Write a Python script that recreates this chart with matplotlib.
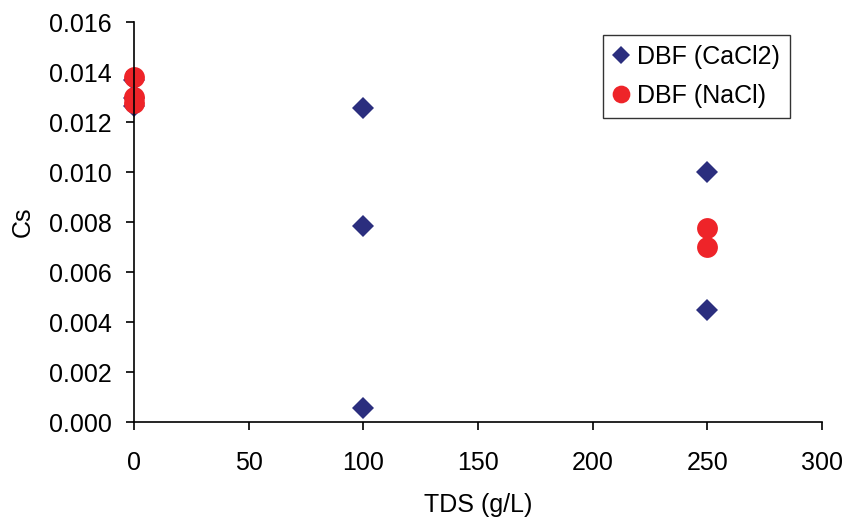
import matplotlib.pyplot as plt

plt.rcParams['font.family'] = ['Liberation Sans', 'DejaVu Sans']

# Cs vs TDS for the two salts
tds_cacl2 = [0, 0, 0, 100, 100, 100, 250, 250]
cs_cacl2 = [0.0137, 0.01296, 0.01264, 0.01256, 0.00784, 0.00056, 0.0100, 0.00448]

tds_nacl = [0, 0, 0, 250, 250]
cs_nacl = [0.0138, 0.0130, 0.01276, 0.00776, 0.0070]

blue = '#2B2E7E'
red = '#EE2429'

fig = plt.figure(figsize=(8.45, 5.25), dpi=100)
ax = fig.add_axes([0.1586, 0.196, 0.8142, 0.762])

ax.plot(tds_cacl2, cs_cacl2, 'D', color=blue, ms=11, mew=0, label='DBF (CaCl2)')
ax.plot(tds_nacl, cs_nacl, 'o', color=red, ms=15, mew=0, label='DBF (NaCl)')

ax.set_xlim(0, 300)
ax.set_ylim(0, 0.016)
ax.set_xticks(range(0, 301, 50))
ax.set_yticks([i * 0.002 for i in range(9)])
ax.set_yticklabels([f'{i * 0.002:.3f}' for i in range(9)])

for s in ['top', 'right']:
    ax.spines[s].set_visible(False)
for s in ['left', 'bottom']:
    ax.spines[s].set_linewidth(1.2)
    ax.spines[s].set_color('black')

ax.tick_params(direction='out', length=6, width=1.2, labelsize=18)
ax.tick_params(axis='x', pad=15)
ax.tick_params(axis='y', pad=10)
ax.set_xlabel('TDS (g/L)', fontsize=18, labelpad=13)
ax.set_ylabel('Cs', fontsize=18, labelpad=10)

for artist in ax.lines:
    artist.set_clip_on(False)

leg = ax.legend(loc='upper right', bbox_to_anchor=(0.9535, 0.9675), borderaxespad=0,
                fontsize=18, frameon=True, fancybox=False, edgecolor='black',
                markerscale=0.85, handletextpad=0.35, borderpad=0.4,
                labelspacing=0.6, handlelength=0.6)
leg.get_frame().set_linewidth(1.0)

fig.savefig('out.png', dpi=100)
